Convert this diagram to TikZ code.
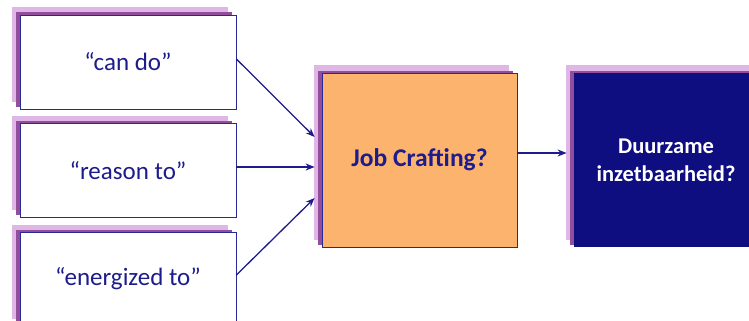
\documentclass[tikz,border=0pt]{standalone}
\usepackage{fontspec}
\setmainfont{Carlito}
\usetikzlibrary{shadows,arrows.meta}
\definecolor{navytxt}{RGB}{28,28,140}
\definecolor{navyline}{RGB}{40,40,150}
\definecolor{navyfill}{RGB}{14,14,128}
\definecolor{orangefill}{RGB}{251,179,110}
\definecolor{lightp}{RGB}{224,182,230}
\definecolor{darkp}{RGB}{145,78,155}
\tikzset{
  stacked/.style={
    general shadow={shadow xshift=-8pt,shadow yshift=7.5pt,fill=lightp},
    general shadow={shadow xshift=-4.5pt,shadow yshift=2.5pt,fill=darkp},
    rectangle, inner sep=0pt, line width=0.8pt},
  qbox/.style={stacked, draw=navyline, fill=white, minimum width=216pt, minimum height=94pt,
    text=navytxt, font=\fontsize{25}{30}\selectfont},
  jobbox/.style={stacked, draw=navyline, fill=orangefill, minimum width=195pt, minimum height=174pt,
    text=navytxt, font=\bfseries\fontsize{25.5}{30}\selectfont},
  duurbox/.style={stacked, draw=none, fill=navyfill, minimum width=184pt, minimum height=174pt,
    text=white, align=center, font=\bfseries\fontsize{22.5}{28}\selectfont},
  arr/.style={draw=navytxt, line width=1.3pt, -{Stealth[length=9pt,width=7pt]}}
}
\begin{document}
\begin{tikzpicture}[x=1pt,y=-1pt]
\useasboundingbox (0,0) rectangle (749,321);
\node[qbox] (b1) at (128,62) {“can do”};
\node[qbox] (b2) at (128,170.5) {“reason to”};
\node[qbox] (b3) at (128,279) {“energized to”};
\node[jobbox] (job) at (419.5,160) {Job Crafting?};
\node[duurbox] (duur) at (666,160) {Duurzame\\inzetbaarheid?};
\draw[arr] ([yshift=3pt]b1.east) -- ([xshift=-7pt,yshift=23pt]job.west);
\draw[arr] ([yshift=3.5pt]b2.east) -- ([xshift=-7pt,yshift=-7pt]job.west);
\draw[arr] ([yshift=4pt]b3.east) -- ([xshift=-7pt,yshift=-38pt]job.west);
\draw[arr] ([yshift=7pt]job.east) -- ([xshift=-7pt,yshift=7pt]duur.west);
\end{tikzpicture}
\end{document}
